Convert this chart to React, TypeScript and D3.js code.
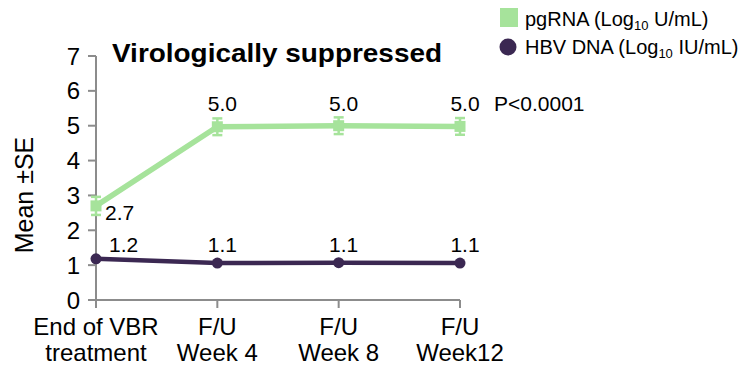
import React from "react";
import * as d3 from "d3";

const categories = ["End of VBR|treatment", "F/U|Week 4", "F/U|Week 8", "F/U|Week12"];
const pgRNA = [2.7, 4.97, 5.0, 4.98];
const pgRNASE = [0.26, 0.24, 0.24, 0.24];
const hbvDNA = [1.18, 1.06, 1.07, 1.06];
const yTicks = [0, 1, 2, 3, 4, 5, 6, 7];

const GREEN = "#a6e39b";
const PURPLE = "#3b2852";
const AXIS = "#8c8c8c";
const FONT = "'Liberation Sans', Arial, sans-serif";

export default function App() {
  const width = 742;
  const height = 365;
  const x = d3.scalePoint<string>().domain(categories).range([96, 460]);
  const y = d3.scaleLinear().domain([0, 7]).range([300, 56]);
  const fmt = d3.format(".1f");

  const line = d3
    .line<number>()
    .x((_, i) => x(categories[i]) as number)
    .y((d) => y(d));

  return (
    <svg
      width={width}
      height={height}
      style={{ position: "absolute", left: 0, top: 0, fontFamily: FONT }}
    >
      <rect width={width} height={height} fill="#fff" />

      {/* y axis */}
      <line x1={96} x2={96} y1={y(7)} y2={y(0)} stroke={AXIS} strokeWidth={2} />
      {yTicks.map((t) => (
        <g key={t}>
          <line x1={88} x2={96} y1={y(t)} y2={y(t)} stroke={AXIS} strokeWidth={2} />
          <text x={80} y={y(t)} dy="0.36em" textAnchor="end" fontSize={24} fill="#000">
            {t}
          </text>
        </g>
      ))}

      {/* x axis */}
      <line x1={96} x2={460} y1={y(0)} y2={y(0)} stroke={AXIS} strokeWidth={2} />
      {categories.map((c) => {
        const [l1, l2] = c.split("|");
        const cx = x(c) as number;
        return (
          <g key={c}>
            <line x1={cx} x2={cx} y1={y(0)} y2={y(0) + 8} stroke={AXIS} strokeWidth={2} />
            <text x={cx} y={335} textAnchor="middle" fontSize={24} fill="#000">
              {l1}
            </text>
            <text x={cx} y={361} textAnchor="middle" fontSize={24} fill="#000">
              {l2}
            </text>
          </g>
        );
      })}

      {/* y axis title */}
      <text
        transform={`translate(33,195) rotate(-90)`}
        textAnchor="middle"
        fontSize={25}
        fill="#000"
      >
        Mean ±SE
      </text>

      {/* chart title */}
      <text
        x={112}
        y={62}
        fontSize={25}
        fontWeight="bold"
        fill="#000"
        textLength={330}
        lengthAdjust="spacingAndGlyphs"
      >
        Virologically suppressed
      </text>

      {/* HBV DNA series */}
      <path d={line(hbvDNA) || ""} fill="none" stroke={PURPLE} strokeWidth={4.5} />
      {hbvDNA.map((v, i) => (
        <circle key={i} cx={x(categories[i]) as number} cy={y(v)} r={5.5} fill={PURPLE} />
      ))}

      {/* pgRNA series with SE bars */}
      <path d={line(pgRNA) || ""} fill="none" stroke={GREEN} strokeWidth={5.5} />
      {pgRNA.map((v, i) => {
        const cx = x(categories[i]) as number;
        const lo = y(v - pgRNASE[i]);
        const hi = y(v + pgRNASE[i]);
        return (
          <g key={i}>
            <line x1={cx} x2={cx} y1={lo} y2={hi} stroke={GREEN} strokeWidth={2.5} />
            <line x1={cx - 5} x2={cx + 5} y1={lo} y2={lo} stroke={GREEN} strokeWidth={2.5} />
            <line x1={cx - 5} x2={cx + 5} y1={hi} y2={hi} stroke={GREEN} strokeWidth={2.5} />
            <rect x={cx - 5.5} y={y(v) - 5.5} width={11} height={11} fill={GREEN} />
          </g>
        );
      })}

      {/* value labels */}
      {pgRNA.map((v, i) => {
        const cx = x(categories[i]) as number;
        return i === 0 ? (
          <text key={i} x={cx + 9} y={y(v) + 14} fontSize={21} fill="#000">
            {fmt(v)}
          </text>
        ) : (
          <text key={i} x={cx + 5} y={111} textAnchor="middle" fontSize={21} fill="#000">
            {fmt(v)}
          </text>
        );
      })}
      {hbvDNA.map((v, i) => {
        const cx = x(categories[i]) as number;
        return i === 0 ? (
          <text key={i} x={cx + 13} y={252} fontSize={21} fill="#000">
            {fmt(v)}
          </text>
        ) : (
          <text key={i} x={cx + 5} y={252} textAnchor="middle" fontSize={21} fill="#000">
            {fmt(v)}
          </text>
        );
      })}
      <text x={494} y={111} fontSize={21} fill="#000">
        P&lt;0.0001
      </text>

      {/* legend */}
      <rect x={500} y={8} width={18} height={19} fill={GREEN} />
      <text x={525} y={26} fontSize={20} fill="#000">
        pgRNA (Log<tspan fontSize={13} dy={4}>10</tspan>
        <tspan dy={-4}> U/mL)</tspan>
      </text>
      <circle cx={508} cy={47} r={8.5} fill={PURPLE} />
      <text x={525} y={54} fontSize={20} fill="#000">
        HBV DNA (Log<tspan fontSize={13} dy={4}>10</tspan>
        <tspan dy={-4}> IU/mL)</tspan>
      </text>
    </svg>
  );
}
